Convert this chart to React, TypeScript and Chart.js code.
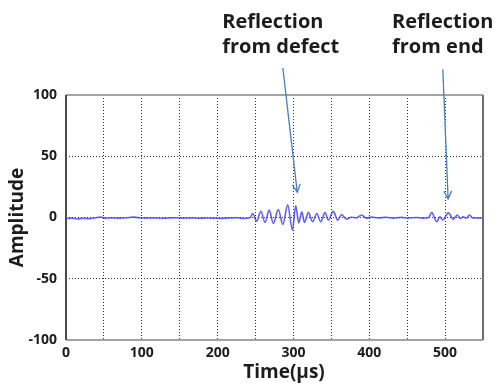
import React, { useEffect, useRef } from "react";
import { Chart, registerables } from "chart.js";

Chart.register(...registerables);

// Recorded echo trace: time of each turning point (µs) and its amplitude.
const timeUs = [
  0, 8, 15, 22, 30, 38, 45, 52, 60, 70, 80, 88, 95, 105, 115, 125, 135, 145, 155, 165, 175, 185, 195,
  205, 215, 225, 235, 243,
  246, 251.5, 257, 262.5, 268, 273.5, 280, 286, 292.4, 298.6, 303, 307, 311, 314.5, 319.7, 325.4,
  330.7, 336, 341.6, 346, 352.6, 358.3, 363.5, 370, 376,
  383, 390, 396, 403, 412, 422, 432, 442, 452, 462, 470, 478,
  482.4, 489, 493, 497, 504.4, 511, 516, 520, 524, 528, 532, 537, 543, 550,
];
const amplitude = [
  -0.8, -0.5, -1.2, -0.6, -0.9, -0.4, 0.4, -0.6, -0.3, -0.5, -0.2, 0.3, -0.1, -0.5, -0.3, -0.6, -0.4, -0.2,
  -0.5, -0.3, -0.6, -0.4, -0.5, -0.7, -0.4, -0.2, -0.8, 0,
  3.3, -3, 5.1, -4.1, 6, -4.9, 6.5, -5.7, 10.3, -10.3, 9.5, -4.5, 4.6, -4, 4, -3.5,
  3.3, -3.5, 4, -2.2, 5, -2.2, 2.4, -1.4, 0.2,
  -0.3, 2, -0.5, 0.3, -0.4, 0.2, -0.5, 0.1, -0.4, 0, -0.5, -0.2,
  4, -3.5, 0.5, -2, 3.8, -1.4, 2, -0.8, 0.5, -0.6, 2, -0.5, -0.3, -0.4,
];

const xTicks = [0, 100, 200, 300, 400, 500];
const yTicks = [-100, -50, 0, 50, 100];

// Callouts: label lines, left edge of the text (µs), arrow start and arrow tip (data units).
const calloutLines = [
  ["Reflection", "from defect"],
  ["Reflection", "from end"],
];
const calloutTextTime = [206, 430];
const calloutArrowFrom = [
  [286, 122],
  [497, 121],
];
const calloutArrowTo = [
  [305, 20.5],
  [504, 15],
];

const TEXT = "#1c1c1c";
const ARROW = "#4a7ebb";

const framePlugin = {
  id: "frameAndCallouts",
  afterDatasetsDraw(chart: any) {
    const { ctx, chartArea: a, scales } = chart;
    const xs = scales.x;
    const ys = scales.y;
    ctx.save();
    ctx.setLineDash([]);
    ctx.lineWidth = 2;
    ctx.strokeStyle = "#a3a3a3";
    ctx.beginPath();
    ctx.moveTo(a.left, a.top);
    ctx.lineTo(a.right, a.top);
    ctx.moveTo(a.left, a.bottom);
    ctx.lineTo(a.right, a.bottom);
    ctx.stroke();
    ctx.strokeStyle = "#6e6e6e";
    ctx.beginPath();
    ctx.moveTo(a.right, a.top);
    ctx.lineTo(a.right, a.bottom);
    ctx.stroke();
    ctx.strokeStyle = "#4a4a4a";
    ctx.beginPath();
    ctx.moveTo(a.left, a.top);
    ctx.lineTo(a.left, a.bottom);
    ctx.stroke();

    // x axis title
    ctx.fillStyle = TEXT;
    ctx.font = "bold 19px 'Open Sans'";
    ctx.textAlign = "center";
    ctx.textBaseline = "alphabetic";
    ctx.fillText("Time(µs)", 284, 378);

    // callouts with arrows
    ctx.font = "bold 20px 'Open Sans'";
    ctx.textAlign = "left";
    calloutLines.forEach((lines, i) => {
      const [fx, fy] = calloutArrowFrom[i];
      const [tx, ty] = calloutArrowTo[i];
      const x0 = xs.getPixelForValue(fx);
      const y0 = ys.getPixelForValue(fy);
      const x1 = xs.getPixelForValue(tx);
      const y1 = ys.getPixelForValue(ty);
      const left = xs.getPixelForValue(calloutTextTime[i]);
      ctx.fillStyle = TEXT;
      lines.forEach((t, j) => ctx.fillText(t, left, 28 + j * 25));
      ctx.strokeStyle = ARROW;
      ctx.lineWidth = 1.3;
      ctx.beginPath();
      ctx.moveTo(x0, y0);
      ctx.lineTo(x1, y1);
      const ang = Math.atan2(y1 - y0, x1 - x0);
      const len = 9;
      const spread = 0.45;
      ctx.moveTo(x1 - len * Math.cos(ang - spread), y1 - len * Math.sin(ang - spread));
      ctx.lineTo(x1, y1);
      ctx.lineTo(x1 - len * Math.cos(ang + spread), y1 - len * Math.sin(ang + spread));
      ctx.stroke();
    });
    ctx.restore();
  },
};

export default function App() {
  const ref = useRef<HTMLCanvasElement | null>(null);

  useEffect(() => {
    if (!ref.current) return;
    const points = timeUs.map((t, i) => ({ x: t, y: amplitude[i] }));
    const tickFont = { family: "'Open Sans'", size: 14, weight: "bold" as any };
    const chart = new Chart(ref.current, {
      type: "line",
      data: {
        datasets: [
          {
            data: points,
            borderColor: "rgba(62,62,238,0.82)",
            borderWidth: 1.6,
            pointRadius: 0,
            cubicInterpolationMode: "monotone",
            fill: false,
          },
        ],
      },
      options: {
        responsive: false,
        animation: false,
        devicePixelRatio: 1,
        layout: { padding: { top: 95, right: 13, left: 0, bottom: 0 } },
        plugins: { legend: { display: false }, tooltip: { enabled: false } },
        scales: {
          x: {
            type: "linear",
            min: 0,
            max: 550,
            afterFit: (s: any) => {
              s.height = 45;
            },
            ticks: {
              stepSize: 50,
              autoSkip: false,
              maxRotation: 0,
              padding: 5,
              color: TEXT,
              font: tickFont,
              callback: (v: any) => (xTicks.includes(Number(v)) ? String(v) : ""),
            },
            grid: { color: "#333333", lineWidth: 1, drawTicks: false },
            border: { display: false, dash: [1, 2] },
          },
          y: {
            type: "linear",
            min: -100,
            max: 100,
            afterFit: (s: any) => {
              s.width = 66;
            },
            ticks: {
              stepSize: 50,
              padding: 9,
              color: TEXT,
              font: tickFont,
              callback: (v: any) => (yTicks.includes(Number(v)) ? String(v) : ""),
            },
            grid: { color: "#333333", lineWidth: 1, drawTicks: false },
            border: { display: false, dash: [1, 2] },
            title: {
              display: true,
              text: "Amplitude",
              color: TEXT,
              font: { family: "'Open Sans'", size: 19, weight: "bold" },
              padding: { top: 6, bottom: 0 },
            },
          },
        },
      },
      plugins: [framePlugin],
    });
    return () => chart.destroy();
  }, []);

  return (
    <div style={{ position: "absolute", left: 0, top: 0, width: 496, height: 385, background: "#fff" }}>
      <canvas ref={ref} width={496} height={385} />
    </div>
  );
}
